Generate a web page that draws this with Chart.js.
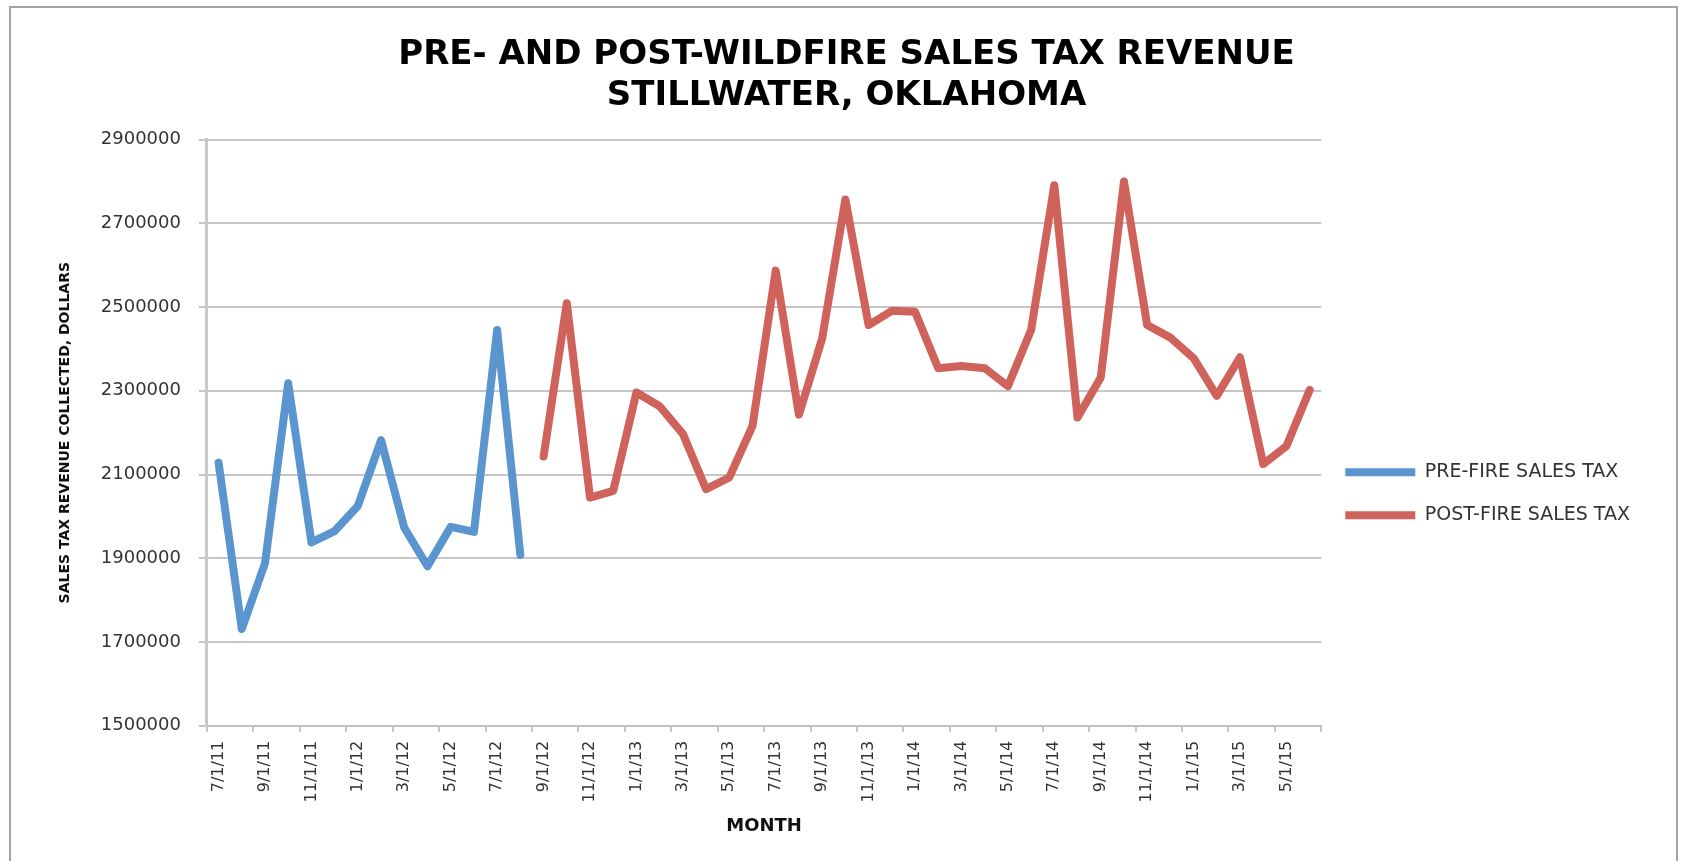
<!DOCTYPE html>
<html>
<head>
<meta charset="utf-8">
<title>Sales Tax Revenue</title>
<script src="https://cdn.jsdelivr.net/npm/chart.js@4.4.1/dist/chart.umd.min.js"></script>
<style>
  html, body { margin: 0; padding: 0; background: #fff; overflow: hidden; }
  #wrap { position: relative; width: 1684px; height: 861px; }
  #frame {
    position: absolute; left: 9px; top: 6px; width: 1669px; height: 900px;
    border: 2px solid #a4a4a4; box-sizing: border-box;
  }
  #chart { position: absolute; left: 0; top: 0; }
</style>
</head>
<body>
<div id="wrap">
  <div id="frame"></div>
  <canvas id="chart" width="1684" height="861"></canvas>
</div>
<script>
// monthly collections, 7/1/11 through 6/1/15
const months = [
  "7/1/11", "8/1/11", "9/1/11", "10/1/11", "11/1/11", "12/1/11",
  "1/1/12", "2/1/12", "3/1/12", "4/1/12", "5/1/12", "6/1/12",
  "7/1/12", "8/1/12", "9/1/12", "10/1/12", "11/1/12", "12/1/12",
  "1/1/13", "2/1/13", "3/1/13", "4/1/13", "5/1/13", "6/1/13",
  "7/1/13", "8/1/13", "9/1/13", "10/1/13", "11/1/13", "12/1/13",
  "1/1/14", "2/1/14", "3/1/14", "4/1/14", "5/1/14", "6/1/14",
  "7/1/14", "8/1/14", "9/1/14", "10/1/14", "11/1/14", "12/1/14",
  "1/1/15", "2/1/15", "3/1/15", "4/1/15", "5/1/15", "6/1/15",
];

// 7/1/11 - 8/1/12
const preFire = [
  2128000, 1731000, 1888000, 2318000, 1938000, 1965000,
  2025000, 2182000, 1973000, 1881000, 1975000, 1963000,
  2445000, 1908000,
];

// 9/1/12 - 6/1/15
const postFire = [
  2143000, 2509000, 2045000, 2061000,
  2296000, 2263000, 2197000, 2065000, 2093000, 2216000,
  2587000, 2243000, 2425000, 2757000, 2457000, 2491000,
  2489000, 2354000, 2359000, 2354000, 2311000, 2445000,
  2791000, 2236000, 2332000, 2800000, 2457000, 2427000,
  2378000, 2288000, 2380000, 2125000, 2168000, 2302000,
];

const yTicks = [1500000, 1700000, 1900000, 2100000, 2300000, 2500000, 2700000, 2900000];

const BLUE = "#5b95cf";
const RED = "#cf625a";
const GRID = "#c6c6c6";

// both series share the month axis; pad with nulls so they don't overlap
const preData = months.map((m, i) => (i < preFire.length ? preFire[i] : null));
const postData = months.map((m, i) => {
  const k = i - (months.length - postFire.length);
  return k >= 0 ? postFire[k] : null;
});

Chart.defaults.font.family = "'DejaVu Sans', sans-serif";
Chart.defaults.color = "#333";

new Chart(document.getElementById("chart"), {
  type: "line",
  data: {
    labels: months,
    datasets: [
      {
        label: "PRE-FIRE SALES TAX",
        data: preData,
        borderColor: BLUE,
        backgroundColor: BLUE,
        borderWidth: 8,
        borderCapStyle: "round",
        borderJoinStyle: "round",
        pointRadius: 0,
        tension: 0,
      },
      {
        label: "POST-FIRE SALES TAX",
        data: postData,
        borderColor: RED,
        backgroundColor: RED,
        borderWidth: 8,
        borderCapStyle: "round",
        borderJoinStyle: "round",
        pointRadius: 0,
        tension: 0,
      },
    ],
  },
  options: {
    responsive: false,
    animation: false,
    devicePixelRatio: 1,
    layout: { padding: { left: 53, right: 44, top: 0, bottom: 20 } },
    plugins: {
      tooltip: { enabled: false },
      title: {
        display: true,
        text: ["PRE- AND POST-WILDFIRE SALES TAX REVENUE", "STILLWATER, OKLAHOMA"],
        color: "#000",
        font: { size: 34, weight: "bold", lineHeight: 1.2 },
        padding: { top: 35, bottom: 23 },
      },
      legend: {
        position: "right",
        // empty title only pushes the entries down a bit
        title: { display: true, text: "", padding: { top: 132, bottom: 0 } },
        labels: {
          usePointStyle: true,
          pointStyle: "line",
          pointStyleWidth: 70,
          padding: 24,
          color: "#333",
          font: { size: 19 },
        },
      },
    },
    scales: {
      x: {
        offset: true,
        title: {
          display: true,
          text: "MONTH",
          color: "#111",
          font: { size: 18, weight: "bold" },
          padding: { top: 4, bottom: 4 },
        },
        grid: {
          offset: true,
          drawOnChartArea: false,
          tickLength: 6,
          lineWidth: 2,
          // a tick mark every second month
          tickColor: (ctx) => (ctx.index === undefined || ctx.index % 2 === 0 ? GRID : "rgba(0,0,0,0)"),
        },
        border: { color: "#c0c0c0", width: 2 },
        ticks: {
          autoSkip: false,
          maxRotation: 90,
          minRotation: 90,
          padding: 9,
          color: "#333",
          font: { size: 16 },
          callback: function (val, i) {
            return i % 2 === 0 ? this.getLabelForValue(val) : "";
          },
        },
      },
      y: {
        min: yTicks[0],
        max: yTicks[yTicks.length - 1],
        afterBuildTicks: (axis) => {
          axis.ticks = yTicks.map((v) => ({ value: v }));
        },
        title: {
          display: true,
          text: "SALES TAX REVENUE COLLECTED, DOLLARS",
          color: "#111",
          font: { size: 14, weight: "bold" },
          padding: { top: 4, bottom: 9 },
        },
        grid: { color: GRID, lineWidth: 2, tickLength: 8 },
        border: { color: "#c8c8c8", width: 3 },
        ticks: {
          padding: 18,
          color: "#333",
          font: { size: 18 },
          callback: (v) => String(v),
        },
      },
    },
  },
});
</script>
</body>
</html>
